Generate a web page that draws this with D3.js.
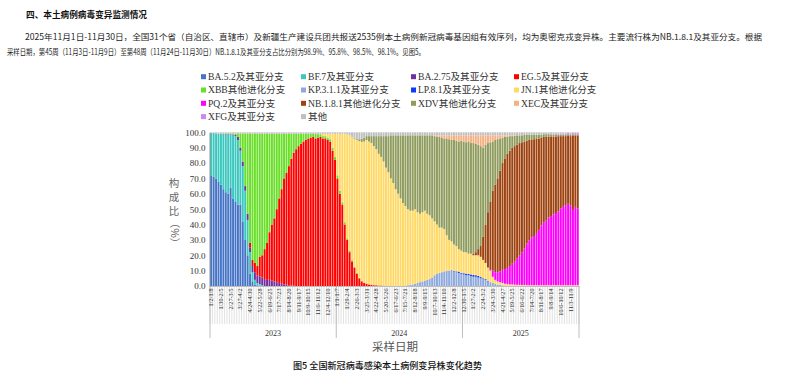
<!DOCTYPE html>
<html><head><meta charset="utf-8">
<script src="https://cdn.jsdelivr.net/npm/d3@7"></script>
<style>body{margin:0;background:#fff} svg{display:block}</style>
</head><body><svg id="c" width="800" height="380"></svg>
<script>
const N_WEEKS = 152;
function seg(start, vals){ const a = new Array(N_WEEKS).fill(0); vals.forEach((v,k)=>{a[start+k]=v;}); return a; }

// weekly composition (%) from week 2023-01-02 to 2025-11-24
const BA52 = seg(0,[72,71,70,68,66,63,61,60,64,57, 55,53,53,42,30,20,8,3,1,0.5, 0.3]);
const BF7 = seg(0,[27.5,28.5,29.3,31,33,35.5,37.5,38.5,34.5,41, 42.5,42,35,36,32,23,14,6,3,1.5, 1,0.5]);
const BA275 = seg(5,[0.3,0.3,0.3,0.3,0.5, 1,2,2,3,3,4,3,4,5,5, 5,5,4.5,4,4,3.5,3,2.5,2,1.5, 1,0.8,0.5,0.3,0.2]);
const EG5 = seg(16,[3,4,6,6, 12.7,14.5,19.5,24,31,36.5,41,47.5,55,61.5, 69,73,77.5,82.5,86.5,89,91,92.5,94,95, 96,96.5,97,96,96.5,97,96,96,95,94, 88,82,70,60,53,40,30,22,16,12, 8,5,3,2,1.5,1,0.8,0.5,0.5,0.3,0.3,0.2]);
const XBB = seg(4,[0.3,0.5,0.5,0.5,0.5,0.8, 0.8,2.3,9.3,18.3,34.3,52.3,71,82,84,86, 80,79,75,71,64,59,55,49,42,36, 29,25.2,21,16.2,12.3,10,8,6.5,5,4, 3,2.5,2,3,2.3,1.8,1.5,1.5,1.5,1.5, 2,2,2,2,1.5,1.5,1,1,0.8,0.5, 0.5,0.3,0.3,0.2]);
const KP311 = seg(80,[0.3,0.5,0.8,1,1.5,2,2.5,3,3.5,4, 4.5,5.5,7,8,8.5,9,9.5,10,10,10.5, 9.5,9,8.5,8,7.5,7,7,6.5,6,6, 5.5,5,4.5,4,3,2.5,2,1.5,1,0.8, 0.5,0.3]);
const LP81 = seg(100,[0.3,0.5,0.8,0.5,0.8,1,0.8,1,1.2,1, 1,0.8,0.5,0.5,0.3]);
const JN1 = seg(44,[0.2,0.2,1.5,1.5,2.5,3.5, 9,15,27,37,44.5,57.5,67.5,75,80.2,83, 86.5,89,90.5,91.8,93.5,93,92.2,90.5,88.5,85.7, 83.7,80.8,77,74,70,67,63,60,57,54, 51.7,49.5,48.2,48,48.5,46,44.5,45,45.5,43, 41.5,38.5,35,32,29.5,29,27.5,23,20,18.5, 17.2,16.5,14.7,14.5,13.7,14,13.2,13.5,12.8,13, 13.5,13.2,12,10.5,8.7,7.5,4,2.5,2,1.7, 1.5,1.2,1.2,1,1,0.8,0.8,0.7,0.7,0.6, 0.6,0.5,0.5,0.5,0.5,0.5,0.5,0.5,0.5,0.5, 0.5,0.5,0.5,0.5,0.5,0.5,0.5,0.5,0.5,0.5,0.5,0.5]);
const PQ2 = seg(115,[1,4,5,6,7, 8.5,9.5,10.5,12,13.5,15,17,19,21,24, 27,29,31,32,34,36,39,41,42,44, 45,46,47,48,50,51,52,53,52,49,51,50]);
const NB181 = seg(108,[1,2, 4,7,15,25,36,44,52,57,61,65.5, 69.5,72,74.3,75,75.5,75.2,74.2,73.3,71.8,69.4, 66.9,65.5,63.5,63,61.5,59.5,57,55.5,54.5,52.5, 51.5,50.5,49.5,49,47,46,45,44.5,45,48.5,46.5,47.5]);
const XDV = seg(59,[0.5,0.5,1.2,2,2.5,2.5,3.5,4.5,6.5,8.5,11.5, 13.5,16.5,20.5,23.5,28,31,35,38,41,44, 46,48,49,49,48,50,51,50,49,51, 52,54,55.5,57,59,58.5,59,63,65.5,66, 68,68.5,70,71.5,72,71.5,73,72,72,70.5, 68,65,58,52,45,38.5,32,29,25.5,21, 16.5,14,11.2,9.5,7.5,6.7,6,5,4.5,4.5, 4,3.5,3.5,3,2.5,2.5,2,1.8,1.8,1.8, 1.5,1.5,1.5,1,1,1,1,0.8,1,0.7,0.7,0.7]);
const XEC = seg(92,[0.5,1,1,1.5,2,2,2.5,3, 3,3.5,4,3.5,4,4.5,4,5,5,5.5, 6,7,8,6,5,4.5,4,3,2.5,2, 1.5,1,0.8,0.5,0.5,0.3]);
const XFG = seg(140,[0.3,0.3,0.5,0.5,0.5,0.5,0.5,0.7,0.8,0.8,0.8,0.8]);
const OTHER = seg(0,[0.5,0.5,0.7,1,0.7,0.7,0.7,0.7,0.7,0.7,
 0.7,0.7,0.7,0.7,0.7,0.7,1,1,1,1,
 1,1,1,1,1,1,1,1,1,1,
 1,1,1,1,1,1,1,1,1,1,
 1,1,1,1,1,1,1,1,1,1,
 1,1,1,1,1,1,1.5,2,3,4,
 4.5,4.5,4.2,3.5,2.5,2.5,2.5,2.5,2.5,2.5,
 2.5,2.5,2.5,2.5,2,2,2,2,2,2,
 2,2,2,2,2,2,2,2,2,2,
 2,2,2,2,2,2,2,2,2,2,
 2,2,2,2,2,2,2,2,2,2,
 2,2,2,2,2,2,2,2,2,2,
 2,2,2,2,2,2,2,2,2,1.5,
 1.5,1.5,1.5,1.5,1.5,1.5,1.5,1.2,1.2,1.2,
 1.2,1.2,1,1,1,1,1,0.5,0.7,0.5,
 0.5,0.5]);

const seriesNames = ["BA.5.2及其亚分支","BF.7及其亚分支","BA.2.75及其亚分支","EG.5及其亚分支",
 "XBB其他进化分支","KP.3.1.1及其亚分支","LP.8.1及其亚分支","JN.1其他进化分支",
 "PQ.2及其亚分支","NB.1.8.1其他进化分支","XDV其他进化分支","XEC及其亚分支",
 "XFG及其亚分支","其他"];
const seriesValues = [BA52,BF7,BA275,EG5,XBB,KP311,LP81,JN1,PQ2,NB181,XDV,XEC,XFG,OTHER];
const colors = ["#4674C6","#3AC8BE","#7030A0","#FF0000","#6ADF2A","#8EA9DB","#0A3BFF","#FFD966",
 "#FF00FF","#9E4310","#8F9C5E","#F4B183","#CC88EE","#BFBFBF"];

const tickLabels = ["1/2-1/8","1/30-2/5","2/27-3/5","3/27-4/2","4/24-4/30","5/22-5/28","6/19-6/25","7/17-7/23","8/14-8/20","9/11-9/17","10/9-10/15","11/6-11/12","12/4-12/10",
 "1/1-1/7","1/29-2/4","2/26-3/3","3/25-3/31","4/22-4/28","5/20-5/26","6/17-6/23","7/15-7/21","8/12-8/18","9/9-9/15","10/7-10/13","11/4-11/10","12/2-12/8",
 "12/30-1/5","1/27-2/2","2/24-3/2","3/24-3/30","4/21-4/27","5/19-5/25","6/16-6/22","7/14-7/20","8/11-8/17","9/8-9/14","10/6-10/12","11/3-11/9"];
const tickEvery = 4;
const years = ["2023","2024","2025"];
const yearWeeks = [52,52,48];
const yTicks = [0,10,20,30,40,50,60,70,80,90,100];

(function(){
const svg = d3.select("#c");
const serif = "'Liberation Serif','Times New Roman','Noto Sans CJK SC',serif";
const cjk = "'Noto Sans CJK SC',sans-serif";

// header texts
svg.append("text").attr("x",26).attr("y",18).attr("font-family",cjk).attr("font-weight",700)
  .attr("font-size",8.6).attr("fill","#111").attr("textLength",121).attr("lengthAdjust","spacingAndGlyphs")
  .text("四、本土病例病毒变异监测情况");
svg.append("text").attr("x",25).attr("y",39.5).attr("font-family",cjk).attr("font-size",8.4).attr("fill","#222")
  .attr("textLength",737).attr("lengthAdjust","spacingAndGlyphs")
  .text("2025年11月1日-11月30日，全国31个省（自治区、直辖市）及新疆生产建设兵团共报送2535例本土病例新冠病毒基因组有效序列，均为奥密克戎变异株。主要流行株为NB.1.8.1及其亚分支。根据");
svg.append("text").attr("x",7).attr("y",55).attr("font-family",cjk).attr("font-size",8.4).attr("fill","#222")
  .attr("textLength",418).attr("lengthAdjust","spacingAndGlyphs")
  .text("采样日期，第45周（11月3日-11月9日）至第48周（11月24日-11月30日）NB.1.8.1及其亚分支占比分别为98.9%、95.8%、98.5%、98.1%。见图5。");

// legend
const legX = [201,301,411,514], legY0 = 76.7, legDY = 13.3;
const leg = svg.append("g");
seriesNames.forEach((n,k)=>{
  const cx = legX[k%4], cy = legY0 + Math.floor(k/4)*legDY;
  leg.append("rect").attr("x",cx).attr("y",cy-2.5).attr("width",5).attr("height",5).attr("fill",colors[k]);
  leg.append("text").attr("x",cx+7).attr("y",cy+3.4).attr("font-family",serif).attr("font-size",9.6)
    .attr("fill","#333").text(n);
});

// chart
const pLeft = 210, pRight = 579, pTop = 132.3, pBottom = 286;
const weeks = d3.range(N_WEEKS);
const x = d3.scaleBand().domain(weeks).range([pLeft,pRight]).paddingInner(0.2).paddingOuter(0.1);
const y = d3.scaleLinear().domain([0,1]).range([pBottom,pTop]);

const rows = weeks.map(i=>{ const o = {week:i}; seriesNames.forEach((n,k)=>{o[n]=seriesValues[k][i];}); return o; });
const stack = d3.stack().keys(seriesNames).offset(d3.stackOffsetExpand);
const layers = stack(rows);

svg.append("g").selectAll("g").data(layers).join("g").attr("fill",(d,k)=>colors[k])
  .selectAll("rect").data(d=>d).join("rect")
  .attr("x",d=>x(d.data.week)).attr("width",x.bandwidth())
  .attr("y",d=>y(d[1])).attr("height",d=>Math.max(0,y(d[0])-y(d[1])));

// category grid lines under axis
const step = x.step();
const gl = svg.append("g");
d3.range(N_WEEKS+1).forEach(k=>{
  const xx = pLeft + k*step;
  gl.append("line").attr("x1",xx).attr("x2",xx).attr("y1",pBottom).attr("y2",324)
    .attr("stroke","#cfcfcf").attr("stroke-width",0.6);
});
// year separators
let acc = 0;
const yb = [0];
yearWeeks.forEach(w=>{acc+=w; yb.push(acc);});
yb.forEach(k=>{
  const xx = pLeft + k*step;
  gl.append("line").attr("x1",xx).attr("x2",xx).attr("y1",pBottom).attr("y2",338)
    .attr("stroke","#b5b5b5").attr("stroke-width",0.9);
});
years.forEach((yr,k)=>{
  const xc = pLeft + (yb[k]+yb[k+1])/2*step;
  svg.append("text").attr("x",xc).attr("y",336).attr("text-anchor","middle")
    .attr("font-family",serif).attr("font-size",8).attr("fill","#333").text(yr);
});

// x axis labels
const xAxis = d3.axisBottom(x).tickValues(tickLabels.map((t,k)=>k*tickEvery))
  .tickFormat((d)=>tickLabels[d/tickEvery]).tickSize(0);
const gx = svg.append("g").attr("transform",`translate(0,${pBottom})`).call(xAxis);
gx.select(".domain").attr("stroke","#999").attr("stroke-width",0.6);
gx.selectAll("text").attr("transform","rotate(-90)").attr("x",-2.5).attr("y",0).attr("dy","0.33em")
  .attr("text-anchor","end").attr("font-family",serif).attr("font-size",6.2).attr("fill","#333");

// y axis
const yAxis = d3.axisLeft(y).tickValues(yTicks.map(v=>v/100)).tickFormat(d=>(d*100).toFixed(1)).tickSize(0).tickPadding(4);
const gy = svg.append("g").attr("transform",`translate(${pLeft-0.5},0)`).call(yAxis);
gy.select(".domain").attr("stroke","#777").attr("stroke-width",0.8);
gy.selectAll("text").attr("font-family",serif).attr("font-size",9).attr("fill","#333");

// y title
const yt = svg.append("g").attr("font-family",cjk).attr("font-size",10.5).attr("fill","#666");
["构","成","比"].forEach((c,k)=>{
  yt.append("text").attr("x",174).attr("y",187+k*14).attr("text-anchor","middle").text(c);
});
yt.append("text").attr("transform","translate(170.5,233) rotate(90)").attr("text-anchor","middle").text("（%）");

// x title
svg.append("text").attr("x",395).attr("y",351).attr("text-anchor","middle").attr("font-family",cjk)
  .attr("font-size",11).attr("fill","#555").attr("textLength",46).attr("lengthAdjust","spacingAndGlyphs").text("采样日期");

// caption
svg.append("text").attr("x",293).attr("y",369).attr("font-family",cjk).attr("font-weight",500)
  .attr("font-size",9.2).attr("fill","#111").attr("textLength",189).attr("lengthAdjust","spacingAndGlyphs")
  .text("图5 全国新冠病毒感染本土病例变异株变化趋势");
})();
</script></body></html>
